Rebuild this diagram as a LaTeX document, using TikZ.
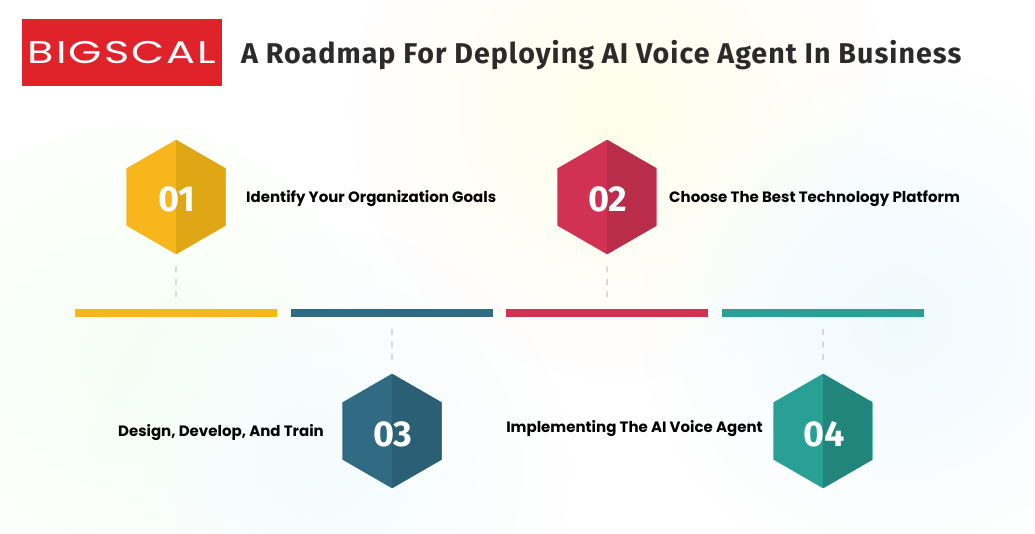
\documentclass[tikz,border=0pt]{standalone}
\usepackage{fontspec}
\setmainfont{Poppins}
\newfontfamily\titlefont{Fira Sans}
\newfontfamily\numfont{Fira Sans}
\newfontfamily\logofont{Poppins}
\usetikzlibrary{shapes.geometric,fadings}
\tikzfading[name=softglow, inner color=transparent!0, outer color=transparent!100]
\definecolor{cyel}{HTML}{F7B61B}\definecolor{cyeld}{HTML}{DFA616}
\definecolor{cred}{HTML}{D13152}\definecolor{credd}{HTML}{B92C4A}
\definecolor{cblu}{HTML}{316B83}\definecolor{cblud}{HTML}{2B5F75}
\definecolor{cgrn}{HTML}{28A096}\definecolor{cgrnd}{HTML}{21857B}
\definecolor{clogo}{HTML}{E0232B}\definecolor{cink}{HTML}{2B2B2B}
\newcommand{\hexnum}[1]{\hspace*{1.5pt}\smash{\raisebox{-15pt}{#1}}}
\tikzset{
  hexa/.style n args={2}{regular polygon, regular polygon sides=6, shape border rotate=30,
    minimum size=114.5pt, inner sep=0pt, fill=#1, text=white,
    font=\numfont\bfseries\fontsize{36}{36}\selectfont,
    path picture={\fill[#2] (path picture bounding box.north) rectangle (path picture bounding box.south east);}},
  barline/.style={rectangle, minimum width=202pt, minimum height=8pt, inner sep=0pt, fill=#1},
  stem/.style={draw=black!22, line width=1.3pt, dash pattern=on 6pt off 6.5pt, shorten <=12pt, shorten >=12pt},
  lab/.style={font=\fontsize{15}{16}\selectfont\bfseries, text=black, inner sep=0pt},
  glow/.style={path fading=softglow, fill=#1},
}
\begin{document}
\begin{tikzpicture}[x=1pt,y=-1pt]
\useasboundingbox (0,0) rectangle (1035,534);
\fill[white] (0,0) rectangle (1035,534);
\begin{scope}
\clip (0,0) rectangle (1035,534);
\fill[glow={yellow!8}] (620,110) circle (270pt);
\fill[glow={green!4}] (130,360) circle (260pt);
\fill[glow={cyan!4}] (330,470) circle (240pt);
\fill[glow={cyan!6}] (900,320) circle (260pt);
\end{scope}
\node[fill=clogo, minimum width=200pt, minimum height=67pt, inner sep=0pt, text=white] (logo) at (122,52.5)
  {\logofont\fontsize{33}{33}\selectfont\addfontfeature{LetterSpace=5}\scalebox{1.3}[0.95]{BIGSCAL}};
\node[anchor=west, inner sep=0pt, text=cink, font=\titlefont\bfseries\fontsize{28.6}{30}\selectfont\addfontfeature{LetterSpace=3.65}] (title) at (241,55)
  {A Roadmap For Deploying AI Voice Agent In Business};
\node[barline=cyel] (b1) at (176,313) {};
\node[barline=cblu] (b2) at (392,313) {};
\node[barline=cred] (b3) at (607,313) {};
\node[barline=cgrn] (b4) at (823,313) {};
\node[hexa={cyel}{cyeld}] (h1) at (176,197) {\hexnum{01}};
\node[hexa={cred}{credd}] (h2) at (607,197) {\hexnum{02}};
\node[hexa={cblu}{cblud}] (h3) at (392,431) {\hexnum{03}};
\node[hexa={cgrn}{cgrnd}] (h4) at (823,431) {\hexnum{04}};
\draw[stem] (h1.south) -- (b1.north);
\draw[stem] (h2.south) -- (b3.north);
\draw[stem] (b2.south) -- (h3.north);
\draw[stem] (b4.south) -- (h4.north);
\node[lab, anchor=west] (t1) at (246,199) {Identify Your Organization Goals};
\node[lab, anchor=west] (t2) at (669,199) {Choose The Best Technology Platform};
\node[lab, anchor=east] (t3) at (324,433) {Design, Develop, And Train};
\node[lab, anchor=east] (t4) at (763,429) {Implementing The AI Voice Agent};
\end{tikzpicture}
\end{document}
